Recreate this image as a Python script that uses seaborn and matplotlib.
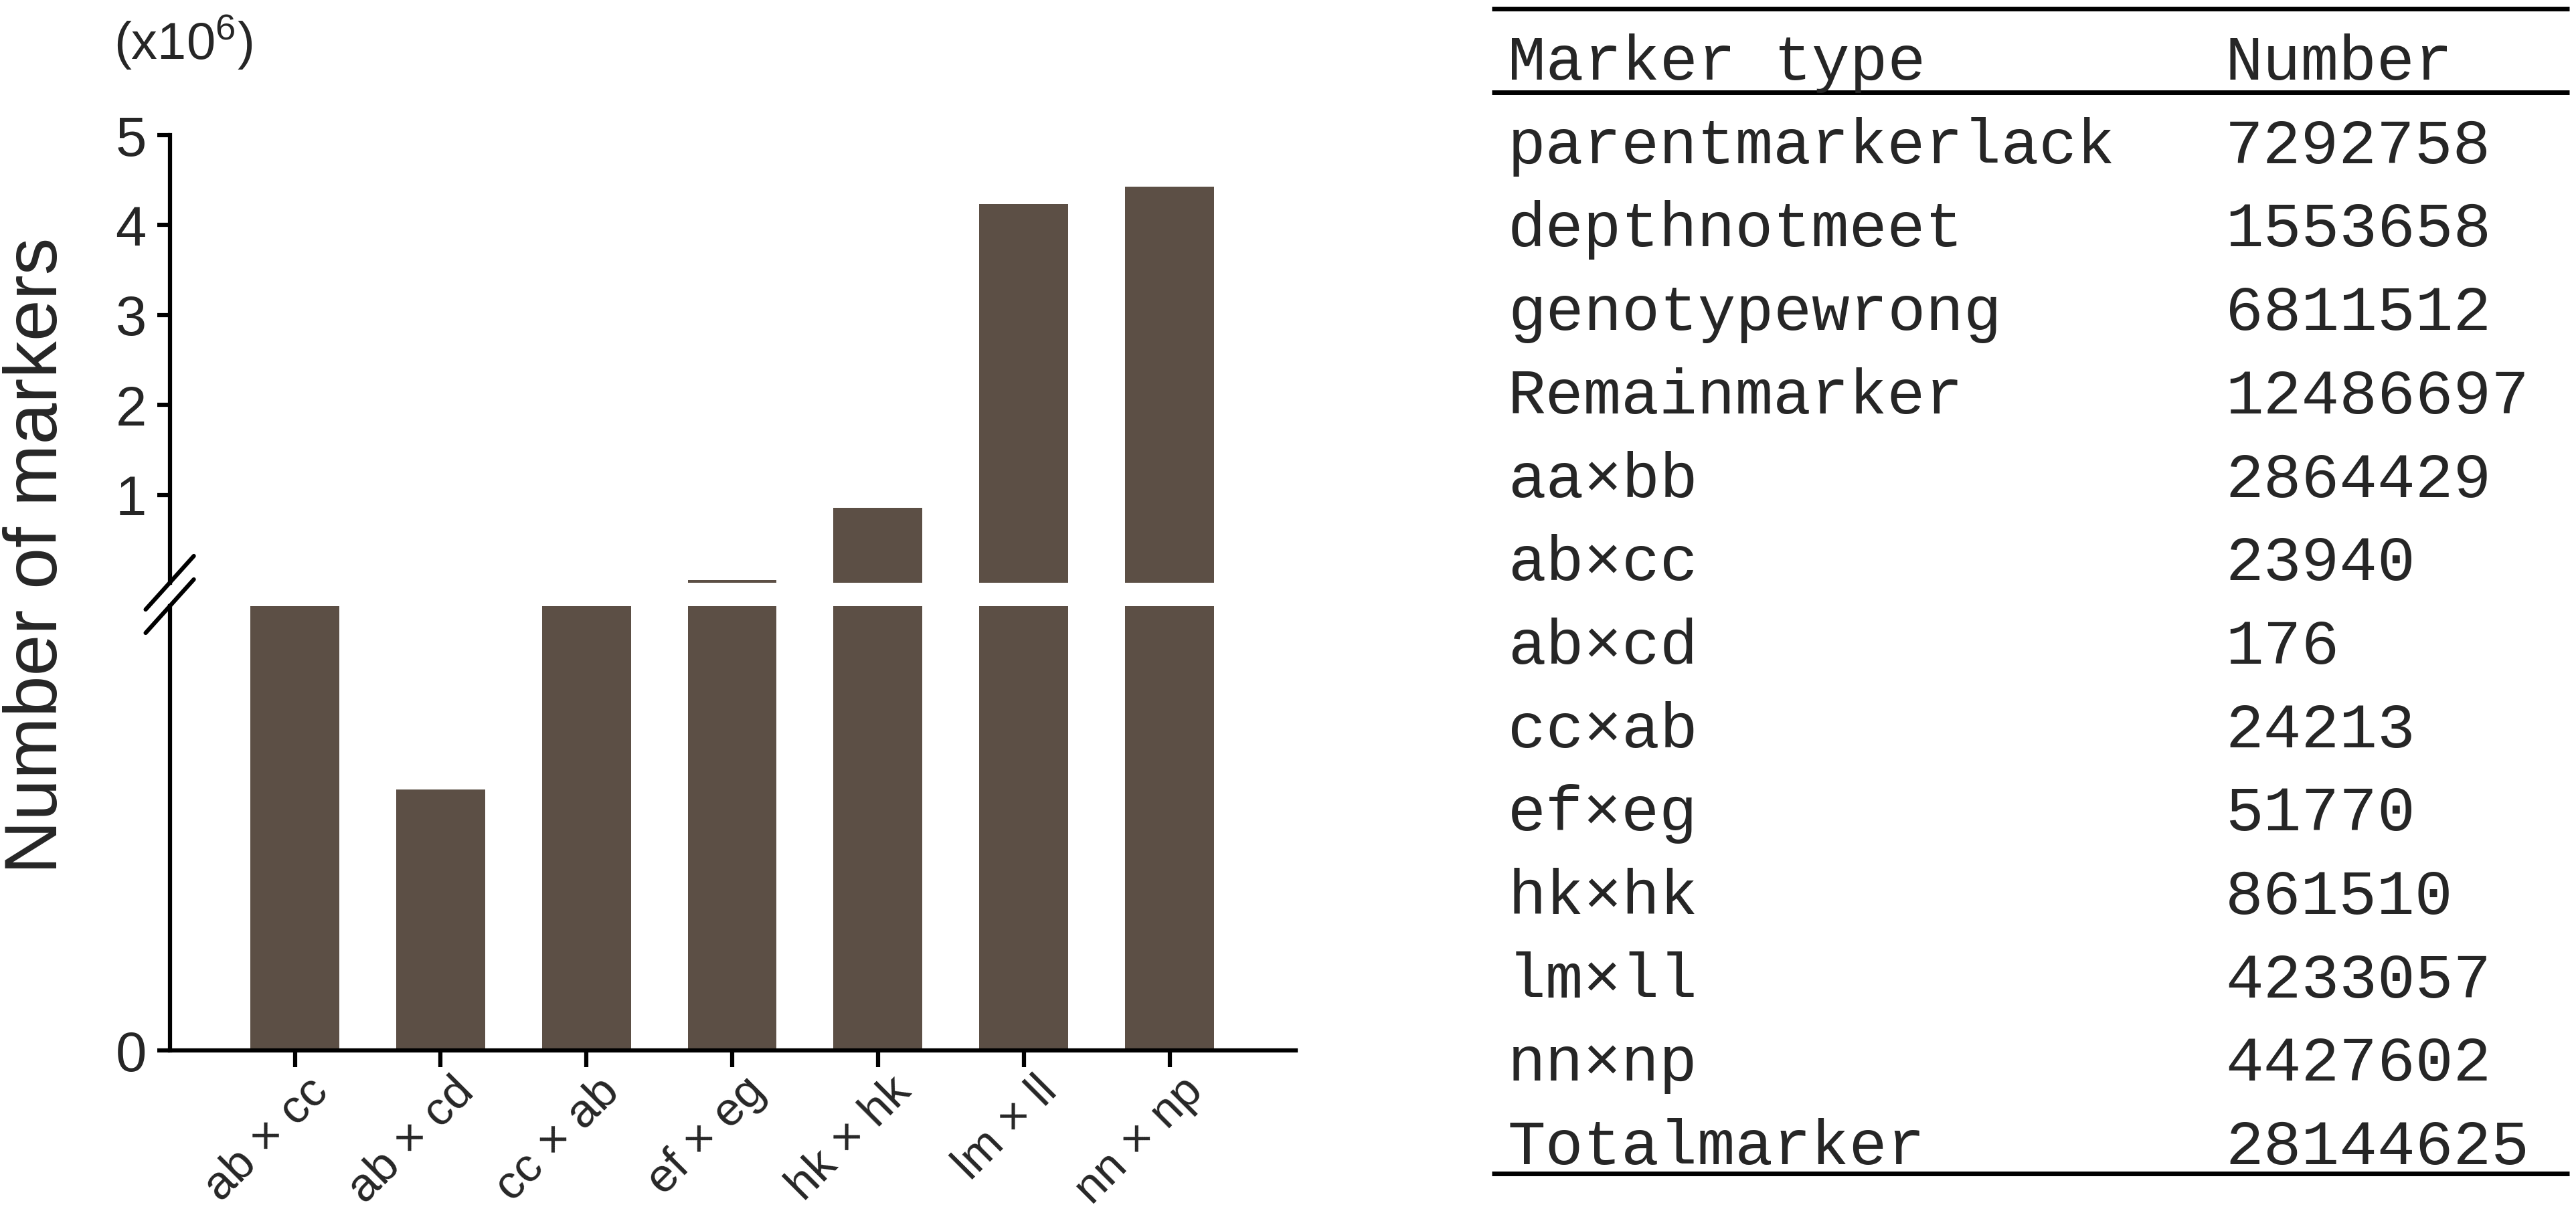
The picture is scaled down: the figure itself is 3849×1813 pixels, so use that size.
import numpy as np
import pandas as pd
import seaborn as sns
import matplotlib.pyplot as plt
from matplotlib.lines import Line2D
from matplotlib.transforms import ScaledTranslation

# marker counts per parental cross type (bar chart)
cross_types = ['ab × cc', 'ab × cd', 'cc × ab', 'ef × eg', 'hk × hk', 'lm × ll', 'nn × np']
marker_counts = [23940, 176, 24213, 51770, 861510, 4233057, 4427602]

# table on the right
table_header = ['Marker type', 'Number']
table_types = ['parentmarkerlack', 'depthnotmeet', 'genotypewrong', 'Remainmarker',
               'aa×bb', 'ab×cc', 'ab×cd', 'cc×ab', 'ef×eg', 'hk×hk', 'lm×ll', 'nn×np',
               'Totalmarker']
table_numbers = [7292758, 1553658, 6811512, 12486697, 2864429, 23940, 176, 24213,
                 51770, 861510, 4233057, 4427602, 28144625]

upper_ticks = [1, 2, 3, 4, 5]
bar_color = '#5c4f45'

sns.set_theme(style='ticks')
plt.rcParams['font.family'] = ['Liberation Sans', 'DejaVu Sans']
plt.rcParams['mathtext.fontset'] = 'custom'
plt.rcParams['mathtext.rm'] = 'Liberation Sans'
plt.rcParams['mathtext.it'] = 'Liberation Sans'

W, H = 3849, 1813
fig = plt.figure(figsize=(W / 100, H / 100), dpi=100)

# broken y axis: upper part in millions, lower part near zero
ax_top = fig.add_axes([253.6 / W, 1 - 871 / H, 1682 / W, (871 - 202) / H])
ax_bot = fig.add_axes([253.6 / W, 1 - 1570 / H, 1682 / W, (1570 - 906) / H])

df = pd.DataFrame({'cross': cross_types, 'count': marker_counts})
df['count_m'] = df['count'] / 1e6

for ax, col in [(ax_top, 'count_m'), (ax_bot, 'count')]:
    sns.barplot(data=df, x='cross', y=col, ax=ax, color=bar_color, saturation=1,
                width=0.61, linewidth=0)
    ax.set_xlim(-0.858, 6.863)
    ax.set_xlabel('')
    ax.set_ylabel('')
    ax.set_facecolor('white')
    for s in ['top', 'right']:
        ax.spines[s].set_visible(False)
    for s in ['left', 'bottom']:
        ax.spines[s].set_linewidth(4.5)
        ax.spines[s].set_color('black')
    ax.tick_params(axis='y', length=14, width=4.5, labelsize=60, pad=11, color='black')

ax_top.set_ylim(0.025, 5)
ax_top.set_yticks(upper_ticks)
ax_top.spines['bottom'].set_visible(False)
ax_top.tick_params(axis='x', bottom=False, labelbottom=False)

ax_bot.set_ylim(0, 300)
ax_bot.set_yticks([0])
ax_bot.tick_params(axis='x', length=18, width=4.5, labelsize=51, pad=8, color='black')
shift = ScaledTranslation(0.16, 0.08, fig.dpi_scale_trans)
for lab in ax_bot.get_xticklabels():
    lab.set_rotation(45)
    lab.set_ha('right')
    lab.set_va('top')
    lab.set_rotation_mode('anchor')
    lab.set_transform(lab.get_transform() + shift)

# break marks on the y axis
p_top = ax_top.get_position()
p_bot = ax_bot.get_position()
for yc in [p_top.y0, p_bot.y1]:
    fig.add_artist(Line2D([p_top.x0 - 36 / W, p_top.x0 + 36 / W],
                          [yc - 40 / H, yc + 40 / H],
                          transform=fig.transFigure, color='black', lw=4.5))

fig.text(0.001, 1 - 830 / H, 'Number of markers', rotation=90, fontsize=80,
         ha='left', va='center')
fig.text(274 / W, 1 - 64 / H, r'(x10$^6$)', fontsize=56, ha='center', va='center')

# table
ax_tab = fig.add_axes([2229 / W, 0, 1 - 2229 / W, 1])
ax_tab.axis('off')
ax_tab.set_xlim(0, 1)
ax_tab.set_ylim(1, 0)

col_x = [(2253 - 2229) / 1620, (3325 - 2229) / 1620]
row_base = (119 + 124.7 * np.arange(len(table_types) + 1)) / H
mono = 'Liberation Mono'

ax_tab.text(col_x[0], row_base[0], table_header[0], fontsize=68, family=mono, va='baseline')
ax_tab.text(col_x[1], row_base[0], table_header[1], fontsize=68, family=mono, va='baseline')
for i, (t, n) in enumerate(zip(table_types, table_numbers)):
    ax_tab.text(col_x[0], row_base[i + 1], t, fontsize=68, family=mono, va='baseline')
    ax_tab.text(col_x[1], row_base[i + 1], str(n), fontsize=68, family=mono, va='baseline')

for yr in [13 / H, 138 / H, 1754 / H]:
    ax_tab.plot([0, 0.994], [yr, yr], color='black', lw=5, solid_capstyle='butt',
                clip_on=False)

fig.savefig('out.png', dpi=100, facecolor='white')
